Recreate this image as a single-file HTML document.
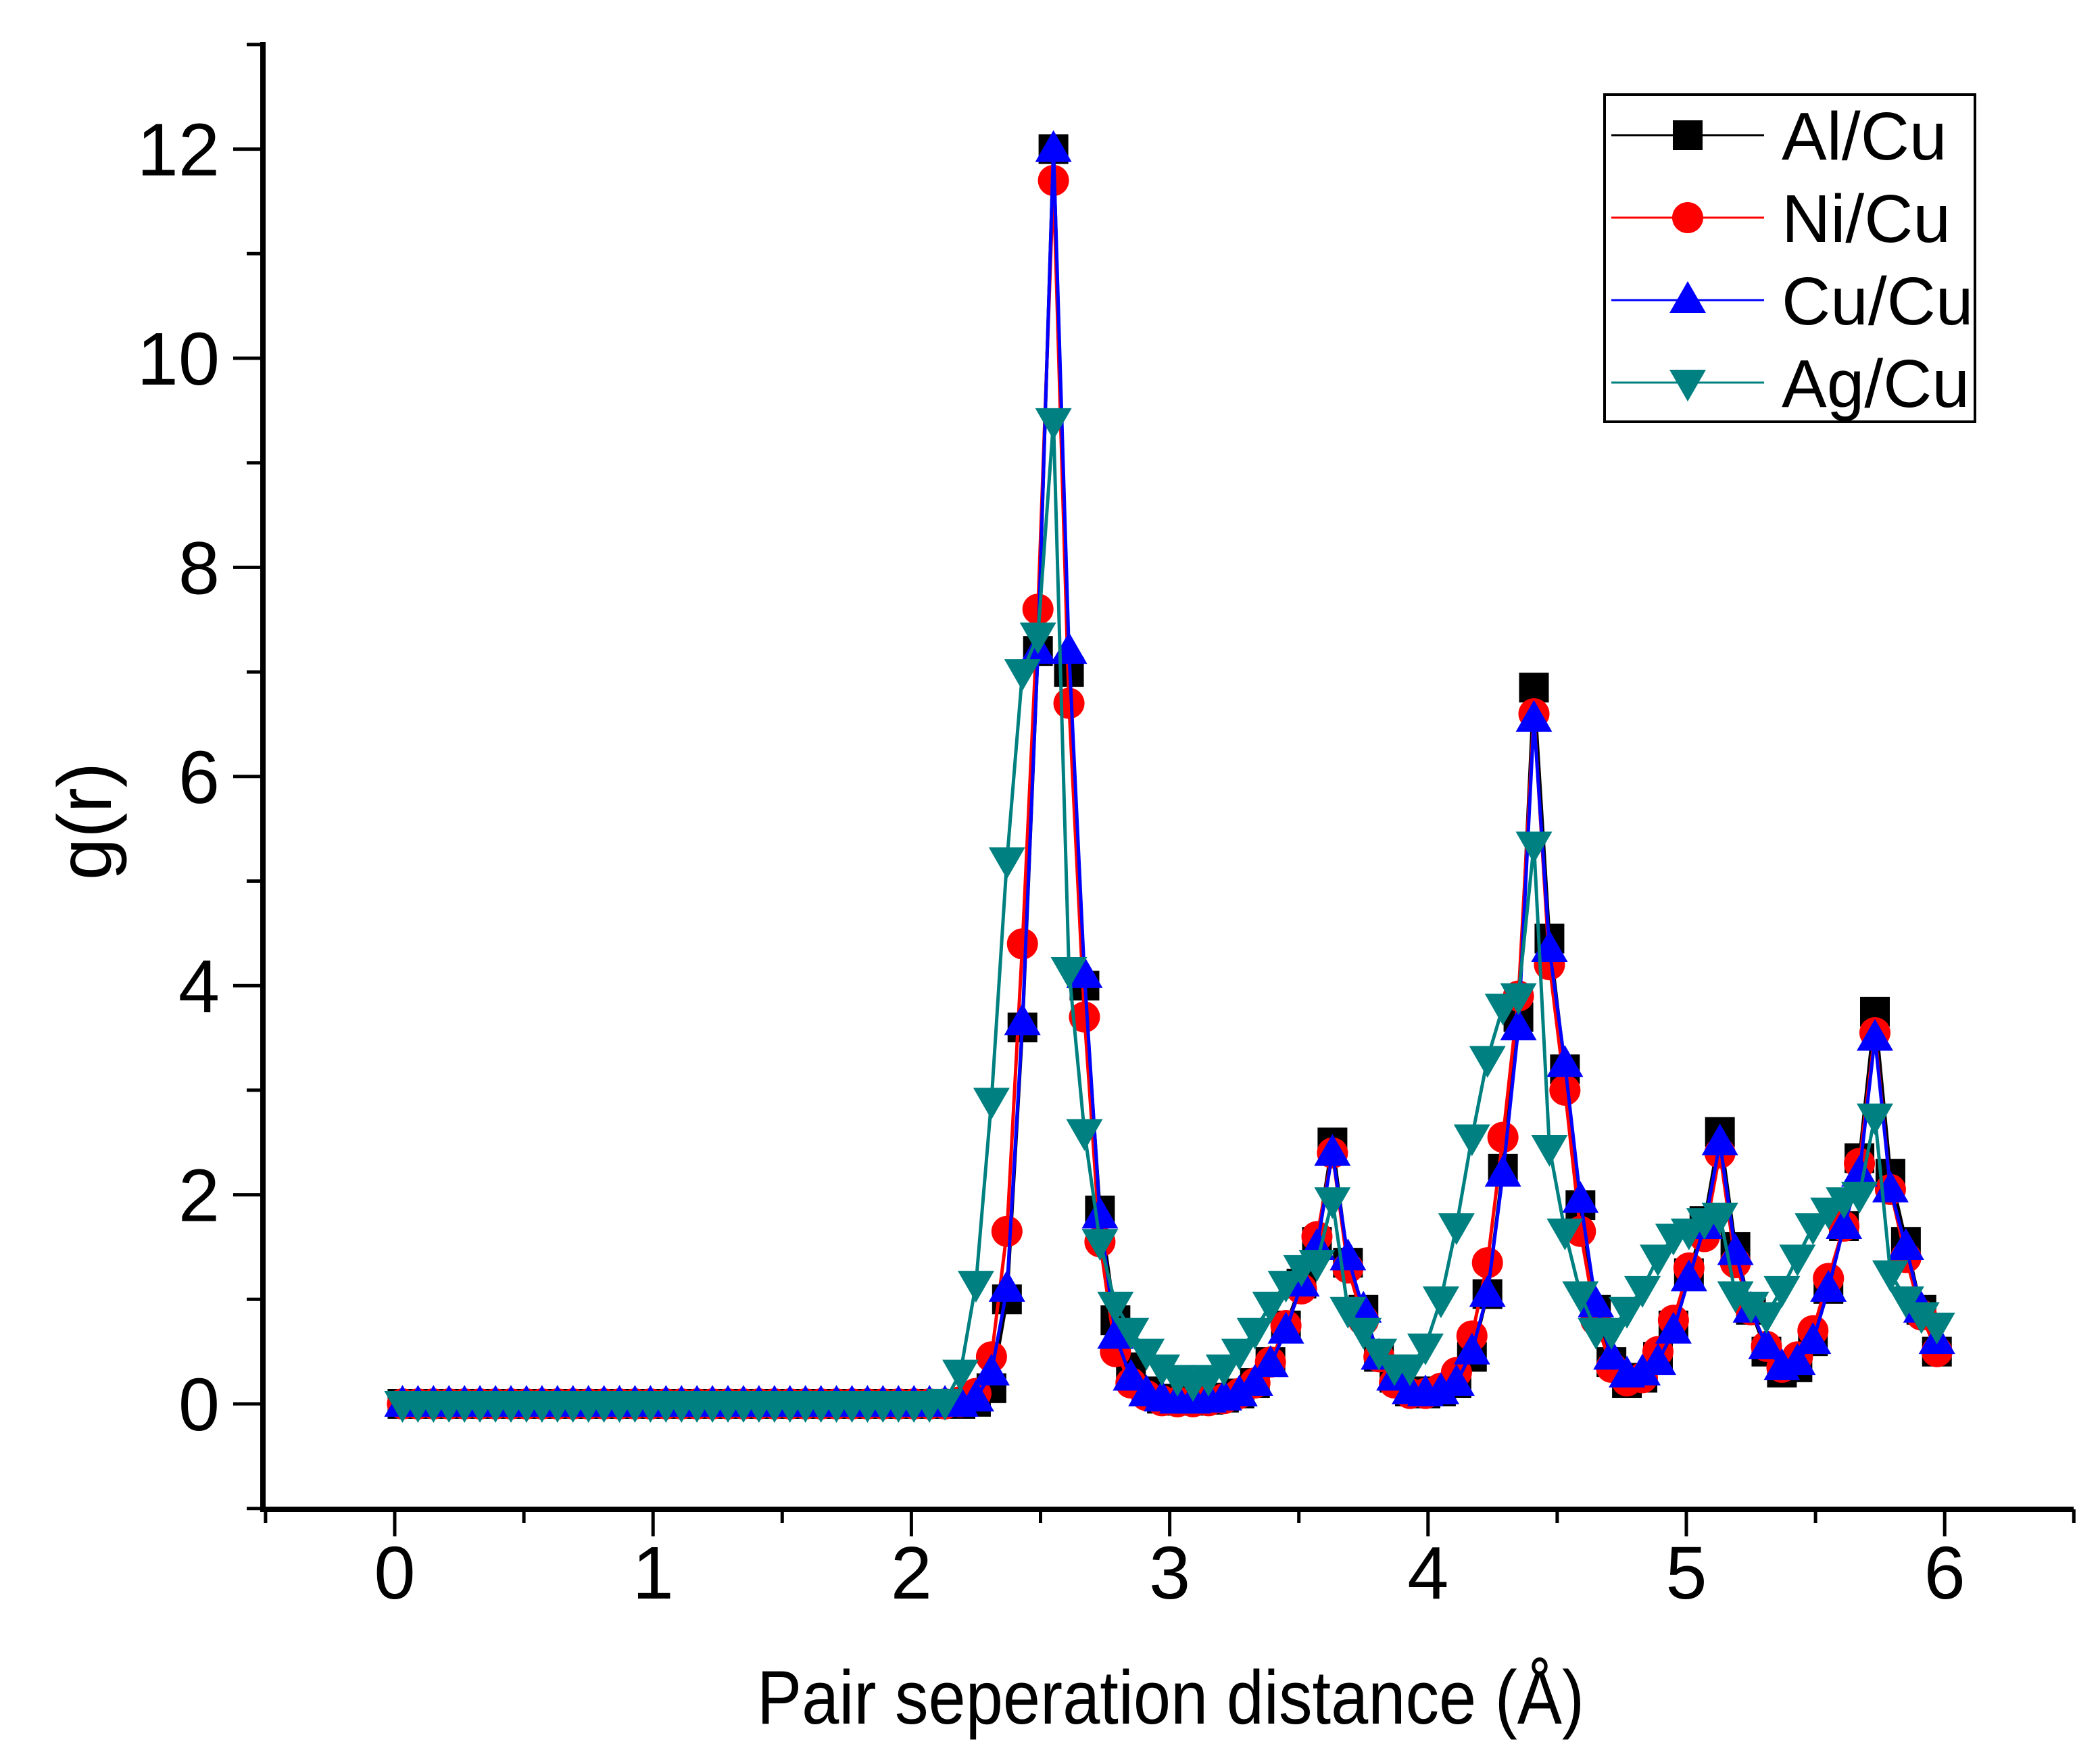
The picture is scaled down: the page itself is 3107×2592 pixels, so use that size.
<!DOCTYPE html>
<html><head><meta charset="utf-8"><style>
html,body{margin:0;padding:0;background:#fff;}
svg{display:block;font-family:"Liberation Sans",Arial,sans-serif;}
</style></head><body>
<svg id="chart" width="3107" height="2592" viewBox="0 0 3107 2592" xmlns="http://www.w3.org/2000/svg">
<g id="axes"></g>
<g id="series"></g>
<g id="legend"></g>
</svg>
<script>
const xTicks = [0,1,2,3,4,5,6];
const yTicks = [0,2,4,6,8,10,12];
const seriesNames = ["Al/Cu","Ni/Cu","Cu/Cu","Ag/Cu"];
const zeroHead = new Array(36).fill(0);
const alCu = zeroHead.concat([0,0.02,0.15,1.0,3.6,7.2,12.0,7.0,4.0,1.85,0.8,0.35,0.12,0.05,0.03,0.03,0.04,0.06,0.1,0.2,0.4,0.75,1.15,1.55,2.5,1.35,0.9,0.45,0.25,0.12,0.1,0.12,0.2,0.45,1.05,2.25,3.7,6.85,4.45,3.2,1.9,0.9,0.4,0.2,0.25,0.45,0.75,1.25,1.75,2.6,1.5,0.9,0.5,0.3,0.35,0.6,1.1,1.7,2.35,3.75,2.2,1.55,0.9,0.5]);
const niCu = zeroHead.concat([0.02,0.1,0.45,1.65,4.4,7.6,11.7,6.7,3.7,1.55,0.5,0.2,0.08,0.03,0.02,0.02,0.03,0.05,0.1,0.2,0.4,0.75,1.1,1.6,2.4,1.3,0.8,0.45,0.2,0.1,0.1,0.15,0.3,0.65,1.35,2.55,3.9,6.6,4.2,3.0,1.65,0.8,0.35,0.22,0.25,0.5,0.8,1.3,1.6,2.4,1.35,0.9,0.55,0.35,0.45,0.7,1.2,1.7,2.3,3.55,2.05,1.4,0.85,0.5]);
const cuCu = zeroHead.concat([0,0.05,0.3,1.1,3.65,7.2,12.0,7.2,4.1,1.8,0.65,0.25,0.1,0.05,0.03,0.03,0.04,0.06,0.1,0.2,0.38,0.7,1.15,1.5,2.4,1.4,0.9,0.45,0.25,0.12,0.1,0.12,0.2,0.5,1.05,2.2,3.6,6.55,4.35,3.25,1.95,0.95,0.45,0.28,0.3,0.4,0.7,1.2,1.7,2.5,1.45,0.9,0.55,0.35,0.4,0.6,1.1,1.7,2.2,3.5,2.05,1.5,0.9,0.6]);
const agCu = new Array(35).fill(0).concat([0.02,0.3,1.15,2.9,5.2,7.0,7.35,9.4,4.15,2.6,1.55,0.95,0.7,0.5,0.35,0.25,0.2,0.25,0.35,0.5,0.7,0.95,1.15,1.3,1.35,1.95,0.9,0.7,0.5,0.35,0.35,0.55,1.0,1.7,2.55,3.3,3.8,3.9,5.35,2.45,1.65,1.05,0.7,0.7,0.9,1.1,1.4,1.6,1.65,1.75,1.8,1.05,0.95,0.85,1.1,1.4,1.7,1.85,1.95,2.0,2.75,1.25,1.0,0.85,0.75]);
const rStart = 0.03, rStep = 0.06;

const NS="http://www.w3.org/2000/svg";
const X0=389, X1=3068, Y0=66, Y1=2233;
function sx(v){return 584+v*382.2;}
function sy(v){return 2077-v*154.7;}
function mk(tag,attrs,parent){const e=document.createElementNS(NS,tag);for(const k in attrs)e.setAttribute(k,attrs[k]);parent.appendChild(e);return e;}
const axes=document.getElementById('axes');
let e;
e=mk('line',{x1:X0,y1:Y0-4,x2:X0,y2:Y1+4,stroke:'#000','stroke-width':8},axes);


e=mk('line',{x1:X0-4,y1:Y1,x2:X1,y2:Y1,stroke:'#000','stroke-width':8},axes);


for(let v=-0.5;v<=6.51;v+=0.5){
  const major=Math.abs(v-Math.round(v))<1e-6;
  e=mk('line',{x1:sx(v),y1:Y1,x2:sx(v),y2:Y1+(major?40:20),stroke:'#000','stroke-width':5},axes);
  
  
}
xTicks.forEach(v=>{
  e=mk('text',{x:sx(v),y:2365,'font-size':110,'text-anchor':'middle',fill:'#000'},axes);
  e.textContent=v;
  
  
});
for(let v=-1;v<=13;v+=1){
  const major=(v%2===0);
  e=mk('line',{x1:X0,y1:sy(v),x2:X0-(major?44:24),y2:sy(v),stroke:'#000','stroke-width':5},axes);
  
  
}
yTicks.forEach(v=>{
  e=mk('text',{x:325,y:sy(v)+39,'font-size':110,'text-anchor':'end',fill:'#000'},axes);
  e.textContent=v;
  
  
});
e=mk('text',{x:1732,y:2550,'font-size':112,'text-anchor':'middle',textLength:1224,lengthAdjust:'spacingAndGlyphs',fill:'#000'},axes);
e.textContent='Pair seperation distance (Å)';


e=mk('text',{x:0,y:0,'font-size':112,'text-anchor':'middle',fill:'#000',transform:'translate(164,1215) rotate(-90)'},axes);
e.textContent='g(r)';



const colors=['#000000','#ff0000','#0000ff','#008080'];
const datasets=[alCu,niCu,cuCu,agCu];
function marker(k,cx,cy,parent){
  let m;
  if(k===0) m=mk('rect',{x:cx-22,y:cy-22,width:44,height:44,fill:colors[k]},parent);
  else if(k===1) m=mk('circle',{cx:cx,cy:cy,r:23,fill:colors[k]},parent);
  else if(k===2) m=mk('polygon',{points:`${cx},${cy-28} ${cx-27},${cy+19} ${cx+27},${cy+19}`,fill:colors[k]},parent);
  else m=mk('polygon',{points:`${cx},${cy+28} ${cx-27},${cy-19} ${cx+27},${cy-19}`,fill:colors[k]},parent);
  return m;
}
const sl=document.getElementById('series');
datasets.forEach((d,k)=>{
  const g=mk('g',{},sl);
  
  
  const pts=d.map((v,i)=>sx(rStart+i*rStep)+','+sy(v)).join(' ');
  e=mk('polyline',{points:pts,fill:'none',stroke:colors[k],'stroke-width':5},g);
  
  
  d.forEach((v,i)=>{
    const m=marker(k,sx(rStart+i*rStep),sy(v),g);
    
    
  });
});
const lg=document.getElementById('legend');
e=mk('rect',{x:2374,y:140,width:548,height:484,fill:'#fff',stroke:'#000','stroke-width':4},lg);


seriesNames.forEach((n,k)=>{
  const cy=200+k*122;
  const g=mk('g',{},lg);
  
  
  mk('line',{x1:2384,y1:cy,x2:2610,y2:cy,stroke:colors[k],'stroke-width':3},g);
  marker(k,2497,cy,g);
  const t=mk('text',{x:2636,y:cy+36,'font-size':100,fill:'#000'},g);
  t.textContent=n;
});
</script>
</body></html>
